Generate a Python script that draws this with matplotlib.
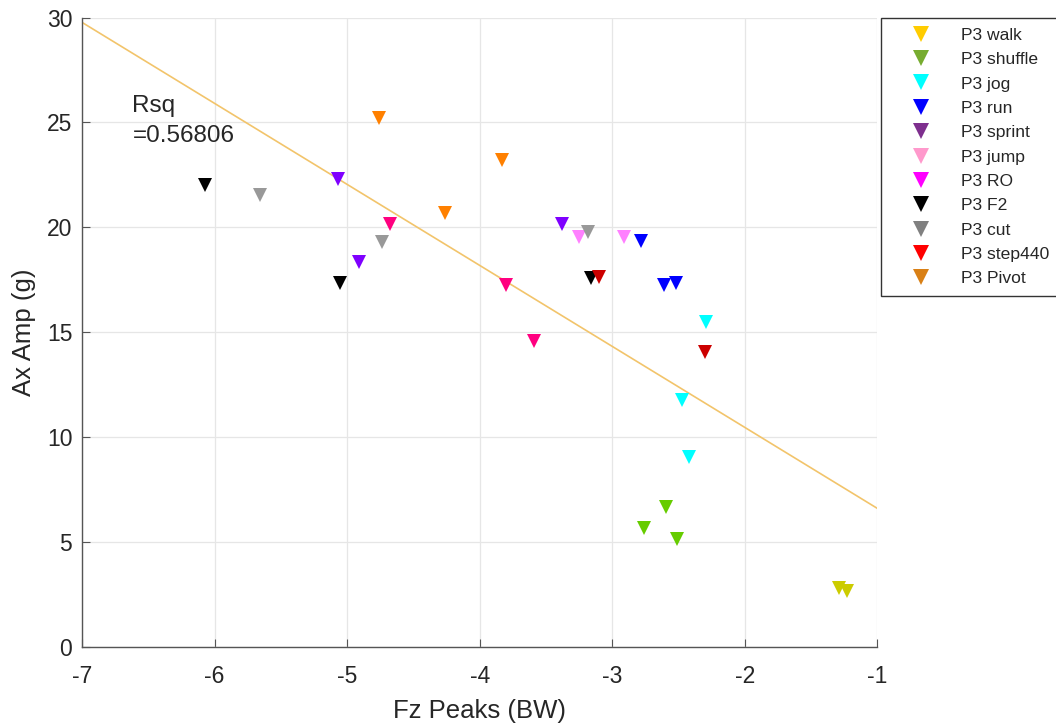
import matplotlib.pyplot as plt
from matplotlib.lines import Line2D

plt.rcParams['font.family'] = ['Liberation Sans', 'DejaVu Sans']
plt.rcParams['axes.unicode_minus'] = False

# activity data (Fz peaks in BW, Ax amplitude in g)
labels = ["P3 walk", "P3 shuffle", "P3 jog", "P3 run", "P3 sprint", "P3 jump",
          "P3 RO", "P3 F2", "P3 cut", "P3 step440", "P3 Pivot"]

walk_x = [-1.29, -1.23]
walk_y = [2.81, 2.67]
shuffle_x = [-2.59, -2.76, -2.51]
shuffle_y = [6.69, 5.69, 5.14]
jog_x = [-2.47, -2.42, -2.29]
jog_y = [11.78, 9.05, 15.51]
run_x = [-2.78, -2.61, -2.52]
run_y = [19.33, 17.26, 17.34]
sprint_x = [-3.38, -5.07, -4.91]
sprint_y = [20.17, 22.32, 18.35]
jump_x = [-3.25, -2.91]
jump_y = [19.54, 19.54]
ro_x = [-4.68, -3.80, -3.59]
ro_y = [20.16, 17.26, 14.59]
f2_x = [-6.07, -5.05, -3.16]
f2_y = [22.03, 17.34, 17.58]
cut_x = [-5.66, -4.74, -3.18]
cut_y = [21.55, 19.30, 19.76]
step_x = [-3.10, -2.30]
step_y = [17.63, 14.04]
pivot_x = [-4.76, -3.83, -4.26]
pivot_y = [25.21, 23.22, 20.68]

xs = [walk_x, shuffle_x, jog_x, run_x, sprint_x, jump_x, ro_x, f2_x, cut_x, step_x, pivot_x]
ys = [walk_y, shuffle_y, jog_y, run_y, sprint_y, jump_y, ro_y, f2_y, cut_y, step_y, pivot_y]

point_colors = ["#CCCC00", "#66CC00", "#00FFFF", "#0000FF", "#7F00FF", "#FF80FF",
                "#FF0080", "#000000", "#999999", "#CC0000", "#FF8000"]
legend_colors = ["#FFCC00", "#77AC30", "#00FFFF", "#0000FF", "#7E2F8E", "#FF99CC",
                 "#FF00FF", "#000000", "#808080", "#FF0000", "#D98016"]

# linear fit
fit_slope = -3.86
fit_intercept = 2.75
rsq_text = "Rsq\n=0.56806"

fig = plt.figure(figsize=(10.56, 7.26), dpi=100)
ax = fig.add_axes([0.0777, 0.1088, 0.753, 0.867])

for x, y, c in zip(xs, ys, point_colors):
    ax.plot(x, y, linestyle="none", marker="v", markersize=9.5, color=c,
            markeredgewidth=0, zorder=3)

fit_x = [-7, -1]
fit_y = [fit_slope * v + fit_intercept for v in fit_x]
ax.plot(fit_x, fit_y, color="#F2C46B", linewidth=1.2, zorder=2)

ax.text(-6.62, 26.3, rsq_text, fontsize=17.5, color="#262626", va="top",
        linespacing=1.45)

ax.set_xlim(-7, -1)
ax.set_ylim(0, 30)
ax.set_xticks(range(-7, 0))
ax.set_yticks(range(0, 31, 5))
ax.grid(True, color="#E6E6E6", linewidth=0.9)
ax.set_axisbelow(True)
ax.spines["top"].set_visible(False)
ax.spines["right"].set_visible(False)
for s in ["left", "bottom"]:
    ax.spines[s].set_color("#555555")
    ax.spines[s].set_linewidth(1.0)
ax.tick_params(direction="in", length=6, color="#555555", labelsize=16.5,
               labelcolor="#262626")
ax.tick_params(axis="x", pad=13)
ax.tick_params(axis="y", pad=7)

ax.set_xlabel("Fz Peaks (BW)", fontsize=18.5, color="#262626", labelpad=8)
ax.set_ylabel("Ax Amp (g)", fontsize=18.5, color="#262626", labelpad=8)

handles = [Line2D([], [], linestyle="none", marker="v", markersize=11,
                  color=c, markeredgewidth=0) for c in legend_colors]
leg = fig.legend(handles, labels, loc="upper left",
                 bbox_to_anchor=(881 / 1056, 1 - 18 / 726), fontsize=12.6,
                 frameon=True, fancybox=False, edgecolor="black",
                 borderpad=0.55, labelspacing=0.52, handletextpad=0.5,
                 handlelength=3.5, borderaxespad=0)
leg.get_frame().set_linewidth(1.0)
for t in leg.get_texts():
    t.set_color("#262626")

fig.savefig("out.png", dpi=100)
